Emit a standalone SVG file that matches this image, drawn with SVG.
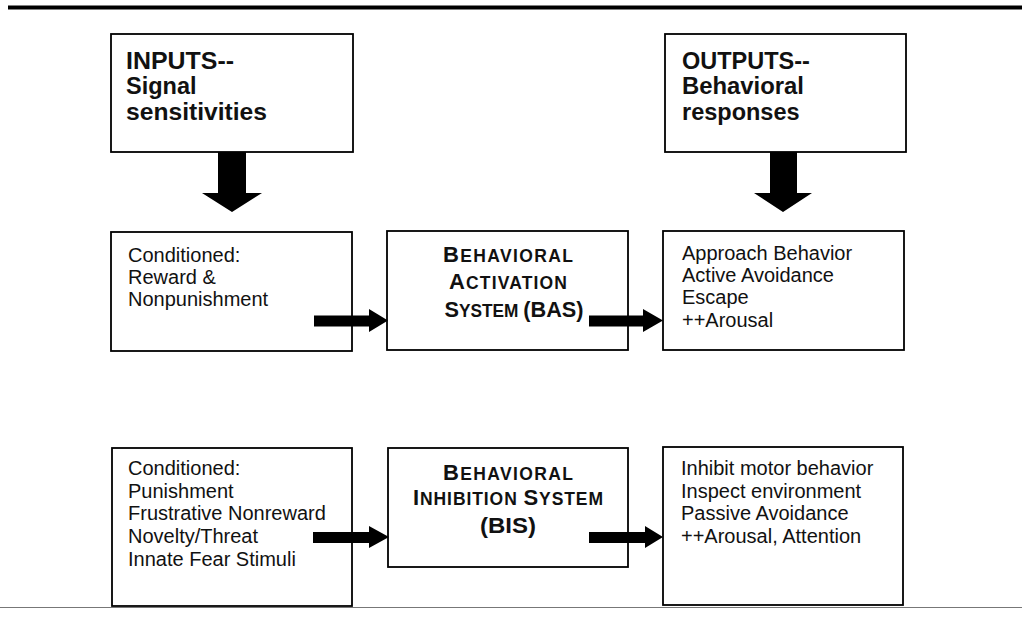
<svg xmlns="http://www.w3.org/2000/svg" width="1022" height="628" viewBox="0 0 1022 628">
<style>
.box{fill:#fff;stroke:#000;stroke-width:1.8}
.t{font-family:"Liberation Sans",Arial,sans-serif;font-size:20px;fill:#111}
.h{font-family:"Liberation Sans",Arial,sans-serif;font-size:23.5px;font-weight:bold;fill:#111}
.sc{font-family:"Liberation Sans",Arial,sans-serif;font-size:17.5px;font-weight:bold;fill:#111}
.big{font-size:22px}
.arr{fill:#000}
</style>
<rect x="0" y="0" width="1022" height="628" fill="#fff"/>
<rect x="8" y="5.5" width="1014" height="4" fill="#000"/>
<line x1="0" y1="607.5" x2="1022" y2="607.5" stroke="#777" stroke-width="1"/>

<g id="inputs">
<rect class="box" x="111" y="34" width="242" height="118"/>
<text class="h" x="126" y="69" textLength="108" lengthAdjust="spacingAndGlyphs">INPUTS--</text>
<text class="h" x="126" y="94">Signal</text>
<text class="h" x="126" y="119.5" textLength="141" lengthAdjust="spacingAndGlyphs">sensitivities</text>
</g>
<g id="outputs">
<rect class="box" x="665" y="34" width="241" height="118"/>
<text class="h" x="682" y="69">OUTPUTS--</text>
<text class="h" x="682" y="94" textLength="122" lengthAdjust="spacingAndGlyphs">Behavioral</text>
<text class="h" x="682" y="119.5">responses</text>
</g>

<g id="bas-inputs">
<rect class="box" x="111" y="232" width="241" height="119"/>
<text class="t" x="128" y="262">Conditioned:</text>
<text class="t" x="128" y="284">Reward &amp;</text>
<text class="t" x="128" y="306">Nonpunishment</text>
</g>
<g id="bas">
<rect class="box" x="387" y="231" width="241" height="119"/>
<text class="sc" x="508" y="262" text-anchor="middle" textLength="130" lengthAdjust="spacing"><tspan class="big">B</tspan>EHAVIORAL</text>
<text class="sc" x="508" y="289" text-anchor="middle" textLength="118" lengthAdjust="spacing"><tspan class="big">A</tspan>CTIVATION</text>
<text class="sc" x="514" y="316.5" text-anchor="middle" textLength="139" lengthAdjust="spacingAndGlyphs"><tspan class="big">S</tspan>YSTEM <tspan class="big">(BAS)</tspan></text>
</g>
<g id="bas-outputs">
<rect class="box" x="663" y="231" width="241" height="119"/>
<text class="t" x="682" y="260">Approach Behavior</text>
<text class="t" x="682" y="282">Active Avoidance</text>
<text class="t" x="682" y="304">Escape</text>
<text class="t" x="682" y="326.5">++Arousal</text>
</g>

<g id="bis-inputs">
<rect class="box" x="112" y="448" width="240" height="158"/>
<text class="t" x="128" y="475">Conditioned:</text>
<text class="t" x="128" y="497.5">Punishment</text>
<text class="t" x="128" y="520">Frustrative Nonreward</text>
<text class="t" x="128" y="543">Novelty/Threat</text>
<text class="t" x="128" y="566">Innate Fear Stimuli</text>
</g>
<g id="bis">
<rect class="box" x="388" y="448" width="240" height="119"/>
<text class="sc" x="508" y="480" text-anchor="middle" textLength="130" lengthAdjust="spacing"><tspan class="big">B</tspan>EHAVIORAL</text>
<text class="sc" x="508" y="505" text-anchor="middle" textLength="190" lengthAdjust="spacing"><tspan class="big">I</tspan>NHIBITION <tspan class="big">S</tspan>YSTEM</text>
<text class="sc big" x="508" y="533" text-anchor="middle" textLength="56" lengthAdjust="spacingAndGlyphs">(BIS)</text>
</g>
<g id="bis-outputs">
<rect class="box" x="663" y="447" width="240" height="158"/>
<text class="t" x="681" y="475">Inhibit motor behavior</text>
<text class="t" x="681" y="497.5">Inspect environment</text>
<text class="t" x="681" y="520">Passive Avoidance</text>
<text class="t" x="681" y="543">++Arousal, Attention</text>
</g>

<g id="connectors">
<polygon class="arr" points="218,152 246,152 246,193 262,193 232,212 202,193 218,193"/>
<polygon class="arr" points="770,152 797,152 797,193 812,193 783,212 754,193 770,193"/>
<polygon class="arr" points="314,315.5 369,315.5 369,309 388,320.5 369,332 369,326.5 314,326.5"/>
<polygon class="arr" points="589,315.5 643,315.5 643,309 663,320.5 643,332 643,326.5 589,326.5"/>
<polygon class="arr" points="313,532 369,532 369,526 389,537 369,548 369,543 313,543"/>
<polygon class="arr" points="589,532 645,532 645,526 663,537 645,548 645,543 589,543"/>
</g>
</svg>
